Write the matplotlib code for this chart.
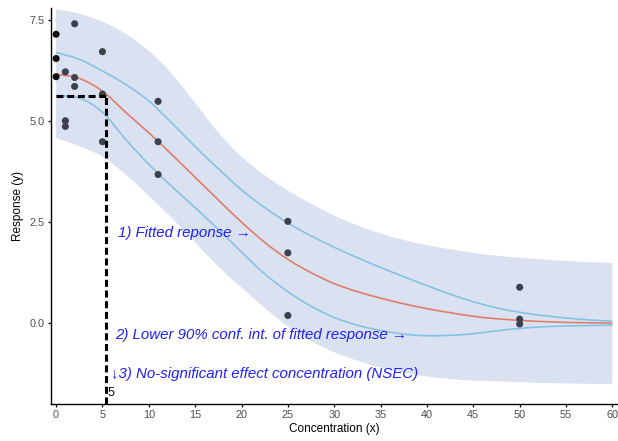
import numpy as np
import matplotlib
matplotlib.use("Agg")
import matplotlib.pyplot as plt
from matplotlib.path import Path
from matplotlib.patches import PathPatch

plt.rcParams['font.family'] = ['Liberation Sans', 'DejaVu Sans']

# observed data
conc = [0, 0, 0, 1, 1, 1, 2, 2, 2, 5, 5, 5, 11, 11, 11, 25, 25, 25, 50, 50, 50]
resp = [7.15, 6.55, 6.10, 6.22, 5.01, 4.87, 7.41, 6.08, 5.86, 6.72, 5.67, 4.49,
        5.49, 4.49, 3.68, 2.52, 1.74, 0.19, 0.89, 0.10, -0.02]

# fitted curve and bands (every 2.5 units)
x_grid = [0, 2.5, 5, 7.5, 10, 12.5, 15, 17.5, 20, 22.5, 25, 27.5, 30,
          32.5, 35, 37.5, 40, 42.5, 45, 47.5, 50, 52.5, 55, 57.5, 60]
fit = [6.16, 6.06, 5.74, 5.22, 4.71, 4.17, 3.61, 3.05, 2.50, 2.00, 1.58, 1.25, 0.98,
       0.78, 0.62, 0.48, 0.36, 0.26, 0.17, 0.11, 0.07, 0.04, 0.02, 0.01, 0.00]
ci_up = [6.70, 6.53, 6.24, 5.91, 5.50, 4.95, 4.37, 3.82, 3.30, 2.86, 2.48, 2.16, 1.88,
         1.62, 1.38, 1.15, 0.93, 0.72, 0.53, 0.38, 0.27, 0.19, 0.13, 0.08, 0.05]
ci_lo = [5.63, 5.57, 5.22, 4.55, 3.93, 3.38, 2.86, 2.32, 1.76, 1.22, 0.78, 0.42, 0.14,
         -0.05, -0.18, -0.27, -0.31, -0.30, -0.26, -0.19, -0.13, -0.09, -0.07, -0.06, -0.05]
band_up = [7.77, 7.66, 7.46, 7.16, 6.74, 6.17, 5.45, 4.72, 4.12, 3.66, 3.28, 2.96, 2.66,
           2.42, 2.22, 2.06, 1.93, 1.83, 1.74, 1.67, 1.62, 1.58, 1.54, 1.51, 1.49]
band_lo = [4.58, 4.38, 4.12, 3.68, 3.15, 2.60, 2.00, 1.40, 0.88, 0.38, -0.08, -0.44, -0.72,
           -0.93, -1.10, -1.22, -1.32, -1.38, -1.42, -1.44, -1.46, -1.48, -1.49, -1.50, -1.50]

nsec_x = 5.37
nsec_y = 5.63


def curve_verts(x, y):
    # bezier control points so the line passes smoothly through the read values
    p = np.column_stack([x, y]).astype(float)
    ext = np.vstack([p[0], p, p[-1]])
    verts = [p[0]]
    for i in range(len(p) - 1):
        a, b, c, d = ext[i], ext[i + 1], ext[i + 2], ext[i + 3]
        verts += [b + (c - a) / 6, c - (d - b) / 6, c]
    codes = [Path.MOVETO] + [Path.CURVE4] * (len(verts) - 1)
    return verts, codes


def curve(ax, x, y, **kw):
    v, c = curve_verts(x, y)
    ax.add_patch(PathPatch(Path(v, c), fill=False, **kw))


fig = plt.figure(figsize=(6.18, 4.41), dpi=100)
ax = fig.add_axes([51 / 618, 37 / 441, 566 / 618, 396 / 441])

vu, cu = curve_verts(x_grid, band_up)
vl, cl = curve_verts(x_grid[::-1], band_lo[::-1])
band = Path(vu + vl + [vu[0]], cu + [Path.LINETO] + cl[1:] + [Path.CLOSEPOLY])
ax.add_patch(PathPatch(band, facecolor='#dae1f1', edgecolor='none', zorder=1))

curve(ax, x_grid, ci_up, edgecolor='#86c2e3', lw=1.2, zorder=2)
curve(ax, x_grid, ci_lo, edgecolor='#86c2e3', lw=1.2, zorder=2)
curve(ax, x_grid, fit, edgecolor='#e07e6c', lw=1.2, zorder=3)
pt_colors = ['#111111' if c == 0 else '#3c414c' for c in conc]
ax.scatter(conc, resp, s=26, c=pt_colors, zorder=4, linewidths=0)

ax.plot([0, nsec_x], [nsec_y, nsec_y], color='black', lw=2.2, dashes=(2.3, 1.2), zorder=5)
ax.plot([nsec_x, nsec_x], [-2.0, nsec_y], color='black', lw=2.2, dashes=(2.3, 1.2), zorder=5)
ax.text(nsec_x + 0.15, -1.73, '5', fontsize=9, color='black', va='center', ha='left')

txt = dict(color='#1f1fff', style='italic', fontsize=10.8, va='center', ha='left')
ax.text(6.7, 2.22, '1) Fitted reponse \u2192', **txt)
ax.text(6.4, -0.30, '2) Lower 90% conf. int. of fitted response \u2192', **txt)
ax.text(5.9, -1.26, '\u21933) No-significant effect concentration (NSEC)', **txt)

ax.set_xlim(-0.55, 60.5)
ax.set_ylim(-2.0, 7.8)
ax.set_xticks(range(0, 61, 5))
ax.set_yticks([0.0, 2.5, 5.0, 7.5])
ax.set_yticklabels(['0.0', '2.5', '5.0', '7.5'])
for s in ['top', 'right']:
    ax.spines[s].set_visible(False)
for s in ['left', 'bottom']:
    ax.spines[s].set_linewidth(1.0)
ax.tick_params(length=2.5, width=0.9, labelsize=7.8, labelcolor='#4d4d4d', pad=2)
ax.set_xlabel('Concentration (x)', fontsize=8.5, labelpad=2)
ax.set_ylabel('Response (y)', fontsize=8.5, labelpad=4)

fig.savefig('out.png', dpi=100)
